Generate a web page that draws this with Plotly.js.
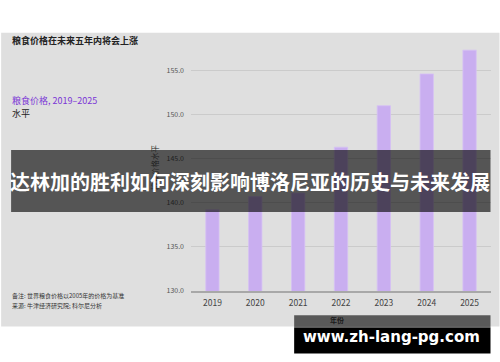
<!DOCTYPE html>
<html>
<head>
<meta charset="utf-8">
<script src="https://cdn.plot.ly/plotly-3.0.1.min.js"></script>
<style>html,body{margin:0;padding:0;background:#fff;}#chart{width:500px;height:362px;}</style>
</head>
<body>
<div id="chart"></div>
<script>
const years = ["2019", "2020", "2021", "2022", "2023", "2024", "2025"];
const priceLevel = [139.2, 140.7, 141.1, 146.3, 151.0, 154.6, 157.3];
const yTicks = [130, 135, 140, 145, 150, 155];

const chartTitle = "粮食价格在未来五年内将会上涨";
const subtitle = "粮食价格, 2019–2025";
const unitLabel = "水平";
const yTitle = "粮食价格水平";
const xTitle = "年份";
const note1 = "备注: 世界粮食价格以2005年的价格为基准";
const note2 = "来源: 牛津经济研究院; 科尔尼分析";
const bannerText = "达林加的胜利如何深刻影响博洛尼亚的历史与未来发展";
const watermark = "www.zh-lang-pg.com";

const W = 500, H = 362;
const L = 190.5, R = 491.5, T = 44.3, B = 290.7;
const px = x => (x - L) / (R - L);
const py = y => (B - y) / (B - T);
const CJK = '"Noto Sans CJK SC", "Noto Sans", sans-serif';

const trace = {
  type: 'bar',
  x: years,
  y: priceLevel,
  marker: {color: '#c9aef0', line: {color: '#d6c0f5', width: 0.8}},
  width: 0.31,
  hoverinfo: 'x+y'
};

const layout = {
  width: W, height: H,
  margin: {l: L, r: W - R, t: T, b: H - B, pad: 0},
  paper_bgcolor: '#ffffff',
  plot_bgcolor: 'rgba(0,0,0,0)',
  showlegend: false,
  font: {family: CJK, color: '#333'},
  xaxis: {
    type: 'category',
    range: [-0.5, 6.5],
    showline: true, linecolor: '#a8a8a8', linewidth: 1.5,
    showgrid: false, ticks: '',
    tickfont: {size: 8.5, color: '#444', family: CJK},
    ticklabelstandoff: 3,
    automargin: false
  },
  yaxis: {
    range: [130, 158],
    tickvals: yTicks,
    tickformat: '.1f',
    showgrid: true, gridcolor: '#cbcbcb', gridwidth: 1,
    zeroline: false, showline: false, ticks: '',
    tickfont: {size: 7, color: '#555', family: CJK},
    ticklabelstandoff: 6,
    title: {text: yTitle, font: {size: 7.5, color: '#222', family: CJK}, standoff: 6},
    automargin: false
  },
  shapes: [
    {type: 'rect', xref: 'paper', yref: 'paper', x0: px(0), x1: px(500), y0: py(326), y1: py(33),
     fillcolor: '#dfdfdf', line: {width: 0}, layer: 'below'},
    {type: 'rect', xref: 'paper', yref: 'paper', x0: px(10), x1: px(491), y0: py(212), y1: py(150),
     fillcolor: 'rgba(0,0,0,0.62)', line: {width: 0}, layer: 'above'},
    {type: 'rect', xref: 'paper', yref: 'paper', x0: px(294), x1: px(491), y0: py(327), y1: py(315),
     fillcolor: 'rgba(0,0,0,0.6)', line: {width: 0}, layer: 'above'},
    {type: 'rect', xref: 'paper', yref: 'paper', x0: px(294), x1: px(491), y0: py(353), y1: py(327),
     fillcolor: '#000000', line: {width: 0}, layer: 'above'}
  ],
  annotations: [
    {text: '<b>' + chartTitle + '</b>', xref: 'paper', yref: 'paper', x: px(9), y: py(41),
     xanchor: 'left', yanchor: 'middle', showarrow: false, font: {size: 9, color: '#222', family: CJK}},
    {text: subtitle, xref: 'paper', yref: 'paper', x: px(9), y: py(101),
     xanchor: 'left', yanchor: 'middle', showarrow: false, font: {size: 9, color: '#7b35d6', family: CJK}},
    {text: unitLabel, xref: 'paper', yref: 'paper', x: px(9), y: py(114),
     xanchor: 'left', yanchor: 'middle', showarrow: false, font: {size: 9, color: '#222', family: CJK}},
    {text: note1, xref: 'paper', yref: 'paper', x: px(9), y: py(295),
     xanchor: 'left', yanchor: 'middle', showarrow: false, font: {size: 6, color: '#333', family: CJK}},
    {text: note2, xref: 'paper', yref: 'paper', x: px(9), y: py(305),
     xanchor: 'left', yanchor: 'middle', showarrow: false, font: {size: 6, color: '#333', family: CJK}},
    {text: '<b>' + xTitle + '</b>', xref: 'paper', yref: 'paper', x: px(337), y: py(320),
     xanchor: 'center', yanchor: 'middle', showarrow: false, font: {size: 7, color: '#1a1a1a', family: CJK}},
    {text: '<b>' + bannerText + '</b>', xref: 'paper', yref: 'paper', x: px(250), y: py(181),
     xanchor: 'center', yanchor: 'middle', showarrow: false, font: {size: 20, color: '#ffffff', family: CJK}},
    {text: '<b>' + watermark + '</b>', xref: 'paper', yref: 'paper', x: px(392), y: py(337),
     xanchor: 'center', yanchor: 'middle', showarrow: false, font: {size: 15, color: '#ffffff', family: '"DejaVu Sans", sans-serif'}}
  ]
};

Plotly.newPlot('chart', [trace], layout, {displayModeBar: false, staticPlot: true});
</script>
</body>
</html>
